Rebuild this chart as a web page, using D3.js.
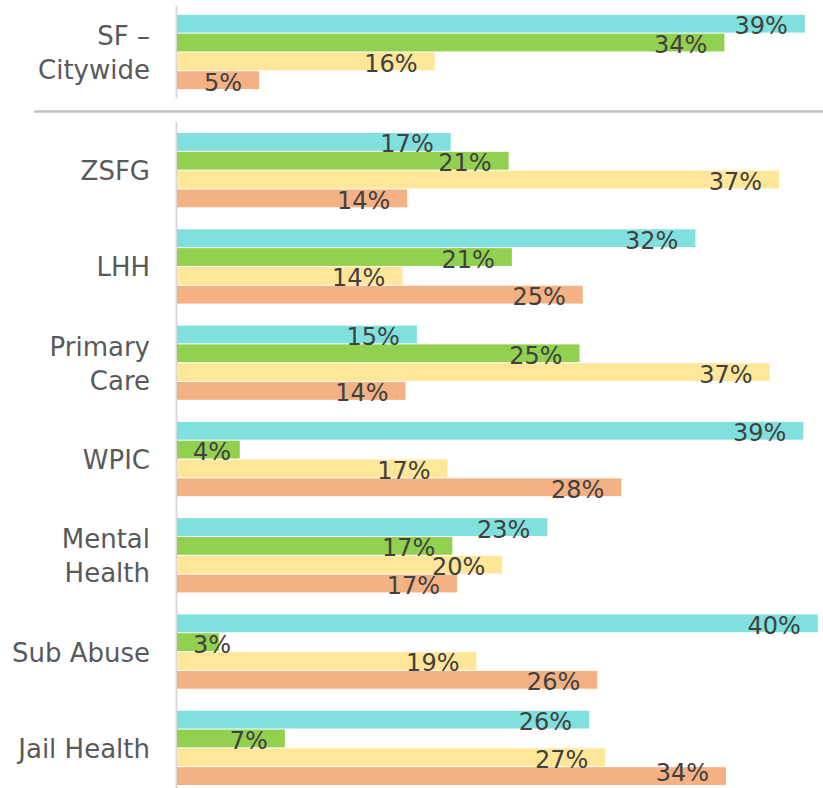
<!DOCTYPE html>
<html>
<head>
<meta charset="utf-8">
<script src="https://cdn.jsdelivr.net/npm/d3@7"></script>
<style>
  body { margin: 0; background: #fff; }
  text { font-family: "Century Gothic", "DejaVu Sans", sans-serif; }
</style>
</head>
<body>
<script>
const width = 823,
      height = 788

// data (percent)
const series = ['s1', 's2', 's3', 's4']
const colors = ['#80e0de', '#92d050', '#ffe699', '#f4b183']

const topCategories = ['SF – Citywide']
const topValues = [[39.0, 34.0, 16.0, 5.1]]

const categories = ['ZSFG', 'LHH', 'Primary Care', 'WPIC', 'Mental Health', 'Sub Abuse', 'Jail Health']
const values = [
    [17.0, 20.6, 37.4, 14.3],
    [32.2, 20.8, 14.0, 25.2],
    [14.9, 25.0, 36.8, 14.2],
    [38.9, 3.9, 16.8, 27.6],
    [23.0, 17.1, 20.2, 17.4],
    [39.8, 2.6, 18.6, 26.1],
    [25.6, 6.7, 26.6, 34.1]
]

const svg = d3.select('body').append('svg')
    .attr('width', width)
    .attr('height', height)

const x = d3.scaleLinear()
    .domain([0, 40])
    .range([177, 821])

const yTop = d3.scaleBand()
    .domain(topCategories)
    .range([4.3, 100.6])
    .paddingInner(0.218)
    .paddingOuter(0.109)

const yLow = d3.scaleBand()
    .domain(categories)
    .range([122.5, 796.5])
    .paddingInner(0.218)
    .paddingOuter(0.109)

const yInner = d3.scaleBand()
    .domain(series)
    .range([0, yLow.bandwidth()])

const color = d3.scaleOrdinal()
    .domain(series)
    .range(colors)

// separator + axis lines
svg.append('line')
    .attr('x1', 34).attr('x2', width)
    .attr('y1', 111.5).attr('y2', 111.5)
    .style('stroke', '#c0c0c0')
    .style('stroke-width', 2.5)

svg.append('line')
    .attr('x1', x(0) - 0.5).attr('x2', x(0) - 0.5)
    .attr('y1', 6).attr('y2', 98)
    .style('stroke', '#d9d9d9')
    .style('stroke-width', 2)

svg.append('line')
    .attr('x1', x(0) - 0.5).attr('x2', x(0) - 0.5)
    .attr('y1', 122).attr('y2', height)
    .style('stroke', '#d9d9d9')
    .style('stroke-width', 2)

function drawPanel(cats, vals, y) {
    const groups = svg.append('g').selectAll('g')
        .data(cats.map((c, i) => ({ name: c, vals: vals[i] })))
        .enter()
        .append('g')
            .attr('transform', d => `translate(0,${y(d.name)})`)

    groups.selectAll('rect')
        .data(d => d.vals.map((v, j) => ({ key: series[j], v: v })))
        .enter()
        .append('rect')
            .attr('x', x(0))
            .attr('y', d => yInner(d.key))
            .attr('width', d => x(d.v) - x(0))
            .attr('height', yInner.bandwidth() - 1)
            .style('fill', d => color(d.key))

    groups.selectAll('text.val')
        .data(d => d.vals.map((v, j) => ({ key: series[j], v: v, top: y(d.name) })))
        .enter()
        .append('text')
            .attr('class', 'val')
            // keep the label inside the page at the bottom edge
            .attr('y', d => Math.min(yInner(d.key) + yInner.bandwidth() / 2 + 10, height - 7 - d.top))
            .text(d => Math.round(d.v) + '%')
            .style('font-size', '24px')
            .style('fill', '#404040')
            .each(function(d) {
                const w = this.getComputedTextLength()
                let right = x(d.v) - 17
                if (right - w < 193) right = 193 + w
                d3.select(this).attr('x', right).attr('text-anchor', 'end')
            })

    // category labels, wrapped by width
    groups.append('text')
        .attr('class', 'cat')
        .attr('text-anchor', 'end')
        .style('font-size', '26px')
        .style('fill', '#595959')
        .each(function(d) {
            const el = d3.select(this)
            const words = d.name.split(' ')
            const lines = []
            let line = []
            const probe = el.append('tspan')
            words.forEach(w => {
                const test = line.concat(w).join(' ')
                probe.text(test)
                if (probe.node().getComputedTextLength() > 150 && line.length) {
                    lines.push(line.join(' '))
                    line = [w]
                } else {
                    line.push(w)
                }
            })
            lines.push(line.join(' '))
            probe.remove()
            const lh = 34
            const mid = y.bandwidth() / 2
            lines.forEach((l, i) => {
                el.append('tspan')
                    .attr('x', 150)
                    .attr('y', mid + 9.5 + (i - (lines.length - 1) / 2) * lh)
                    .text(l)
            })
        })
}

drawPanel(topCategories, topValues, yTop)
drawPanel(categories, values, yLow)
</script>
</body>
</html>
